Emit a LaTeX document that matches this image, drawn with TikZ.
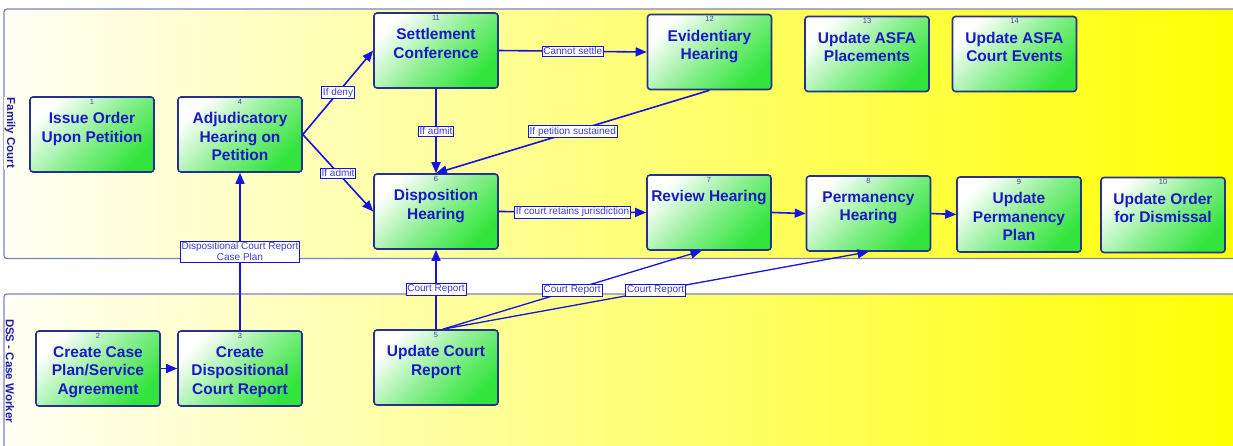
\documentclass[tikz,border=0pt]{standalone}
\usepackage{fontspec}
\setmainfont{Liberation Sans}
\usetikzlibrary{arrows.meta,calc}

\definecolor{laneline}{RGB}{128,128,200}
\definecolor{lanetext}{RGB}{30,30,170}
\definecolor{boxline}{RGB}{40,50,140}
\definecolor{boxgreen}{RGB}{50,228,60}
\definecolor{boxtext}{RGB}{25,25,195}
\definecolor{numblue}{RGB}{70,70,160}
\definecolor{linkblue}{RGB}{20,20,220}
\definecolor{tagblue}{RGB}{60,60,210}

\tikzset{
  lane/.style={draw=laneline, line width=1.3pt, rounded corners=3pt,
    left color=yellow!4, right color=yellow},
  lanetitle/.style={rotate=-90, font=\fontsize{11.5}{13}\selectfont\bfseries,
    text=lanetext, fill=yellow!8, inner sep=1pt},
  procbox/.style={draw=boxline, line width=1.6pt, rounded corners=3pt,
    minimum width=124pt, minimum height=75pt, inner sep=0pt,
    top color=white, bottom color=boxgreen, middle color=boxgreen!55,
    shading angle=45},
  proctext/.style={text=boxtext, font=\fontsize{15.5}{18.5}\selectfont\bfseries,
    align=center, anchor=north, inner sep=0pt},
  procnum/.style={text=numblue, font=\fontsize{7.5}{8}\selectfont,
    anchor=north, inner sep=0pt},
  flow/.style={draw=linkblue, line width=1.6pt,
    -{Triangle[length=11pt,width=9pt]}},
  tag/.style={draw=linkblue, line width=0.6pt, fill=white, text=tagblue,
    font=\fontsize{10}{11}\selectfont, inner sep=1.3pt, align=center}
}

% process box: name, centre, number, caption
\newcommand\proc[4]{%
  \node[procbox] (#1) at (#2) {};
  \node[procnum] (#1-num) at ([yshift=-2.5pt]#1.north) {#3};
  \node[proctext] (#1-txt) at ([yshift=-16pt]#1.north) {#4};
}

\begin{document}
\begin{tikzpicture}[x=1pt,y=-1pt]
\useasboundingbox (0,0) rectangle (1233,445);
\clip (0,0) rectangle (1233,445);

% swimlanes
\path[lane] (4,9) rectangle (1250,258.5);
\path[lane] (4,294) rectangle (1250,460);
\node[lanetitle] (lane-fc) at (10,133) {Family Court};
\node[lanetitle] (lane-dss) at (10,371) {DSS - Case Worker};

% Family Court activities
\proc{n1}{92,134.5}{1}{Issue Order\\Upon Petition}
\proc{n4}{240,134.5}{4}{Adjudicatory\\Hearing on\\Petition}
\proc{n11}{436,50.5}{11}{Settlement\\Conference}
\proc{n6}{436,211.5}{6}{Disposition\\Hearing}
\proc{n12}{709.5,52}{12}{Evidentiary\\Hearing}
\proc{n13}{867,54}{13}{Update ASFA\\Placements}
\proc{n14}{1014.5,54}{14}{Update ASFA\\Court Events}
\proc{n7}{709,212.5}{7}{Review Hearing}
\proc{n8}{868.5,213.5}{8}{Permanency\\Hearing}
\proc{n9}{1019,214.5}{9}{Update\\Permanency\\Plan}
\proc{n10}{1163,215}{10}{Update Order\\for Dismissal}

% DSS activities
\proc{n2}{98,368.5}{2}{Create Case\\Plan/Service\\Agreement}
\proc{n3}{240,368.5}{3}{Create\\Dispositional\\Court Report}
\proc{n5}{436,367.5}{5}{Update Court\\Report}

% flows
\draw[flow] (n4.east) -- node[tag] (t-deny) {If deny} (n11.west);
\draw[flow] (n4.east) -- node[tag] (t-admit1) {If admit} (n6.west);
\draw[flow] (n11.east) -- node[tag] (t-settle) {Cannot settle} (n12.west);
\draw[flow] (n11.south) -- node[tag] (t-admit2) {If admit} (n6.north);
\draw[flow] (n12.south) -- node[tag] (t-sust) {If petition sustained} (n6.north);
\draw[flow] (n6.east) -- node[tag] (t-juris) {If court retains jurisdiction} (n7.west);
\draw[flow] (n7.east) -- (n8.west);
\draw[flow] (n8.east) -- (n9.west);
\draw[flow] (n2.east) -- (n3.west);
\draw[flow] (n3.north) -- node[tag] (t-plan) {Dispositional Court Report\\Case Plan} (n4.south);
\draw[flow] (n5.north) -- node[tag] (t-cr1) {Court Report} (n6.south);
\draw[flow, line width=1.3pt] (n5.80) -- node[tag] (t-cr2) {Court Report} (n7.-101);
\draw[flow, line width=1.3pt] (n5.80) -- node[tag] (t-cr3) {Court Report} (n8.south);
\end{tikzpicture}
\end{document}
